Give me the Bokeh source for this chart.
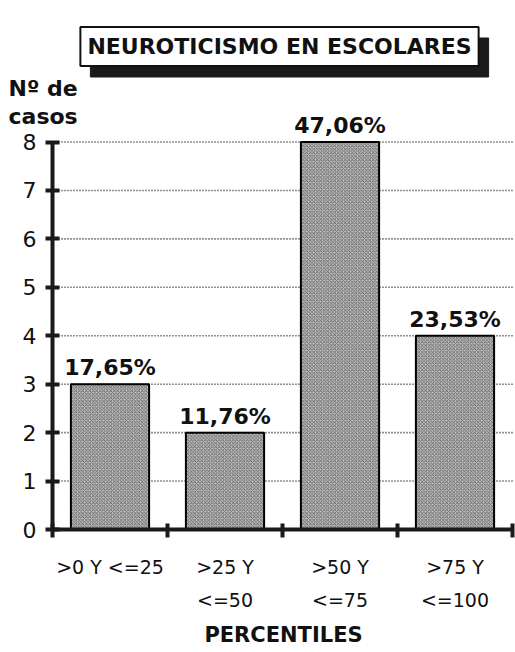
from bokeh.plotting import figure
from bokeh.models import (ColumnDataSource, Range1d, FixedTicker, LinearAxis,
                          LabelSet, Label)
from bokeh.core.properties import value
from bokeh.embed import file_html
from bokeh.resources import INLINE

# ---- data ----
categories_line1 = [">0 Y <=25", ">25 Y", ">50 Y", ">75 Y"]
categories_line2 = ["", "<=50", "<=75", "<=100"]
casos = [3, 2, 8, 4]
porcentajes = ["17,65%", "11,76%", "47,06%", "23,53%"]
y_ticks = [0, 1, 2, 3, 4, 5, 6, 7, 8]
title_text = "NEUROTICISMO EN ESCOLARES"
y_title = ["Nº de", "casos"]
x_title = "PERCENTILES"

n = len(casos)
centers = [i + 0.5 for i in range(n)]
bounds = [float(i) for i in range(n + 1)]
ymax = max(y_ticks)

# ---- layout (canvas pixels) ----
W, H = 515, 652
X0_PX, XN_PX = 52, 512        # canvas x of x=0 and x=n
Y0_PX, YT_PX = 529, 141.5     # canvas y (from top) of y=0 and y=ymax
ux = (XN_PX - X0_PX) / n
uy = (Y0_PX - YT_PX) / ymax
x_rng = Range1d(-X0_PX / ux, n + (W - XN_PX) / ux)
y_rng = Range1d(-(H - Y0_PX) / uy, ymax + YT_PX / uy)

p = figure(width=W, height=H, output_backend="svg", toolbar_location=None,
           x_range=x_rng, y_range=y_rng,
           x_axis_location=None, y_axis_location=None,
           min_border_left=0, min_border_right=0, min_border_top=0,
           min_border_bottom=0, outline_line_color=None)
p.xgrid.visible = False
p.ygrid.visible = False

# dotted grid lines from the y axis to the end of the x axis
p.segment(x0=[0] * len(y_ticks), y0=y_ticks, x1=[n] * len(y_ticks), y1=y_ticks,
          line_color="#222222", line_dash="1 2", line_width=1.6)

src = ColumnDataSource(dict(x=centers, top=casos, pct=porcentajes))
p.vbar(x="x", top="top", bottom=0, width=0.68, source=src,
       fill_color="#bcbcbc", line_color="black", line_width=2,
       hatch_pattern="x", hatch_color="#555555", hatch_scale=3.5, hatch_weight=0.8)

# y axis drawn at x = 0
ya = LinearAxis(ticker=FixedTicker(ticks=y_ticks), fixed_location=0, bounds=(0, ymax))
ya.axis_line_width = 4
ya.axis_line_color = "#1a1a1a"
ya.major_tick_in = 7
ya.major_tick_out = 7
ya.major_tick_line_width = 4
ya.major_tick_line_color = "#1a1a1a"
ya.minor_tick_line_color = None
ya.major_label_text_font = "DejaVu Sans"
ya.major_label_text_font_size = "22px"
ya.major_label_text_color = "#111111"
ya.major_label_standoff = 9
p.add_layout(ya, "left")

# x axis (line 1 labels + boundary ticks) drawn at y = 0
tick = FixedTicker(ticks=centers, minor_ticks=bounds)
xa1 = LinearAxis(ticker=tick, fixed_location=0, bounds=(0, n),
                 major_label_overrides={c: t for c, t in zip(centers, categories_line1)})
xa1.axis_line_width = 4
xa1.axis_line_color = "#1a1a1a"
xa1.major_tick_line_color = None
xa1.major_tick_out = 8
xa1.major_tick_in = 0
xa1.minor_tick_in = 6
xa1.minor_tick_out = 8
xa1.minor_tick_line_width = 4
xa1.minor_tick_line_color = "#1a1a1a"
xa1.major_label_standoff = 18
xa1.major_label_text_font = "DejaVu Sans"
xa1.major_label_text_font_size = "19px"
xa1.major_label_text_color = "#111111"
p.add_layout(xa1, "below")

xa2 = LinearAxis(ticker=FixedTicker(ticks=centers, minor_ticks=[]), fixed_location=0,
                 bounds=(0, n),
                 major_label_overrides={c: t for c, t in zip(centers, categories_line2)})
xa2.axis_line_color = None
xa2.major_tick_line_color = None
xa2.minor_tick_line_color = None
xa2.major_tick_out = 0
xa2.major_tick_in = 0
xa2.major_label_standoff = 59
xa2.major_label_text_font = "DejaVu Sans"
xa2.major_label_text_font_size = "19px"
xa2.major_label_text_color = "#111111"
p.add_layout(xa2, "below")

# percentage labels
p.add_layout(LabelSet(x="x", y="top", text="pct", source=src, y_offset=9,
                      text_align="center", text_baseline="alphabetic",
                      text_font=value("DejaVu Sans"), text_font_style="bold",
                      text_font_size="22px", text_color="#111111"))

# title box with shadow (screen units: x from left, y up from bottom)
bold = dict(text_font="DejaVu Sans", text_font_style="bold")
p.add_layout(Label(x=289, y=H - 57, x_units="screen", y_units="screen",
                   text=title_text, text_align="center", text_baseline="middle",
                   text_font_size="22px", text_color="#1a1a1a",
                   background_fill_color="#1a1a1a", border_line_color="#1a1a1a",
                   padding=7, **bold))
p.add_layout(Label(x=279, y=H - 46, x_units="screen", y_units="screen",
                   text=title_text, text_align="center", text_baseline="middle",
                   text_font_size="22px", text_color="#111111",
                   background_fill_color="white", border_line_color="#111111",
                   border_line_width=2, padding=7, **bold))

# y title
p.add_layout(Label(x=8, y=H - 75, x_units="screen", y_units="screen",
                   text=y_title[0], text_align="left", text_baseline="top",
                   text_font_size="22px", text_color="#111111", **bold))
p.add_layout(Label(x=8, y=H - 103, x_units="screen", y_units="screen",
                   text=y_title[1], text_align="left", text_baseline="top",
                   text_font_size="22px", text_color="#111111", **bold))

# x title
p.add_layout(Label(x=283, y=H - 634, x_units="screen", y_units="screen",
                   text=x_title, text_align="center", text_baseline="middle",
                   text_font_size="21px", text_color="#111111", **bold))

open("out.html", "w").write(file_html(p, INLINE))
